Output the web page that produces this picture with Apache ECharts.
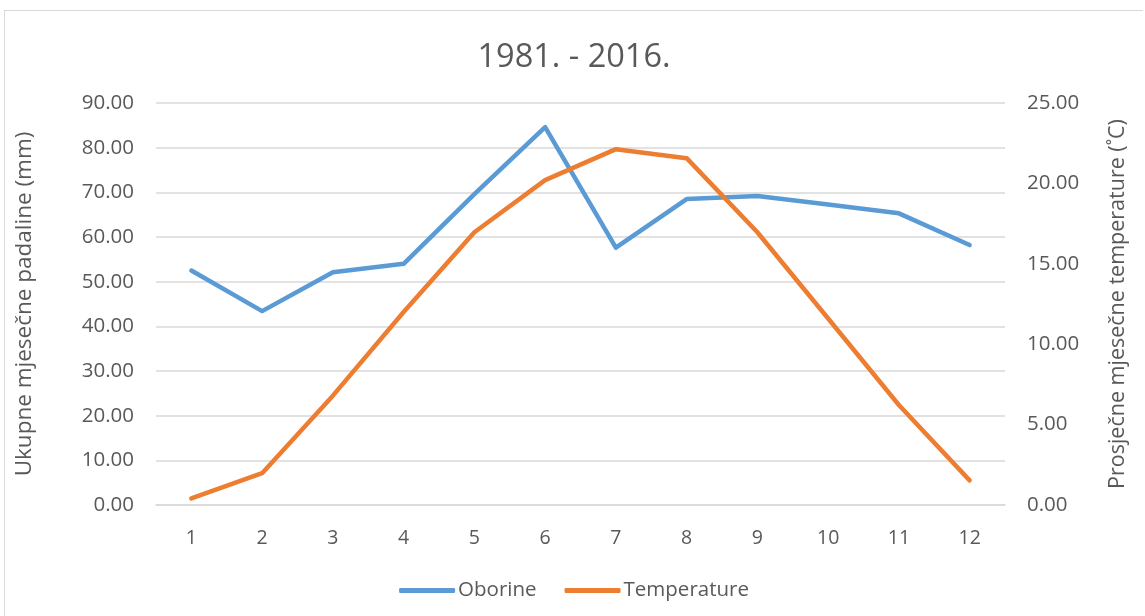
<!DOCTYPE html>
<html>
<head>
<meta charset="utf-8">
<script src="https://cdn.jsdelivr.net/npm/echarts@6/dist/echarts.min.js"></script>
<style>
  html, body { margin: 0; padding: 0; background: #fff; }
  #chart { position: absolute; left: 4px; top: 10px; width: 1139px; height: 606px;
           border: 1px solid #d9d9d9; border-bottom: none; border-right: none; box-sizing: border-box; }
</style>
</head>
<body>
<div id="chart"></div>
<script>
var months = ['1', '2', '3', '4', '5', '6', '7', '8', '9', '10', '11', '12'];
var oborine = [52.5, 43.4, 52.1, 54.0, 69.6, 84.6, 57.6, 68.5, 69.2, 67.3, 65.3, 58.2];
var temperature = [0.41, 1.98, 6.8, 12.0, 16.96, 20.2, 22.13, 21.57, 16.96, 11.6, 6.22, 1.53];

var myChart = echarts.init(document.getElementById('chart'));
var txt = '#595959';
var font = 'Open Sans';

var option = {
  textStyle: { fontFamily: font },
  title: {
    text: '1981. - 2016.',
    left: 'center',
    top: 25,
    textStyle: { fontFamily: font, fontSize: 32.5, fontWeight: 'normal', color: txt }
  },
  legend: {
    bottom: 10,
    left: 'center',
    itemWidth: 56,
    itemHeight: 5,
    itemGap: 28,
    icon: 'roundRect',
    textStyle: { fontFamily: font, fontSize: 20.5, color: txt, padding: [0, 0, 0, -2] },
    data: ['Oborine', 'Temperature']
  },
  grid: { left: 149, right: 138, top: 92, bottom: 111 },
  xAxis: {
    type: 'category',
    data: months,
    boundaryGap: true,
    axisLine: { show: true, lineStyle: { color: '#d9d9d9', width: 1.5 } },
    axisTick: { show: false },
    axisLabel: { color: txt, fontSize: 19.5, fontFamily: font, margin: 23 }
  },
  yAxis: [{
    type: 'value',
    min: 0, max: 90, interval: 10,
    name: 'Ukupne mjesečne padaline (mm)',
    nameLocation: 'middle',
    nameGap: 120,
    nameTextStyle: { color: txt, fontSize: 22.5, fontFamily: font },
    axisLine: { show: false },
    axisTick: { show: false },
    splitLine: { lineStyle: { color: '#d9d9d9', width: 1.5 } },
    axisLabel: { color: txt, fontSize: 20.5, fontFamily: font, margin: 22,
      formatter: function (v) { return v.toFixed(2); } }
  }, {
    type: 'value',
    min: 0, max: 25, interval: 5,
    name: 'Prosječne mjesečne temperature (˚C)',
    nameLocation: 'middle',
    nameGap: 102,
    nameTextStyle: { color: txt, fontSize: 21.5, fontFamily: font },
    axisLine: { show: false },
    axisTick: { show: false },
    splitLine: { show: false },
    axisLabel: { color: txt, fontSize: 20.5, fontFamily: font, margin: 22,
      formatter: function (v) { return v.toFixed(2); } }
  }],
  series: [{
    name: 'Oborine',
    type: 'line',
    data: oborine,
    yAxisIndex: 0,
    showSymbol: false,
    color: '#5B9BD5',
    lineStyle: { width: 4.5, cap: 'round', join: 'round' }
  }, {
    name: 'Temperature',
    type: 'line',
    data: temperature,
    yAxisIndex: 1,
    showSymbol: false,
    color: '#ED7D31',
    lineStyle: { width: 4.5, cap: 'round', join: 'round' }
  }]
};
myChart.setOption(option);
</script>
</body>
</html>
